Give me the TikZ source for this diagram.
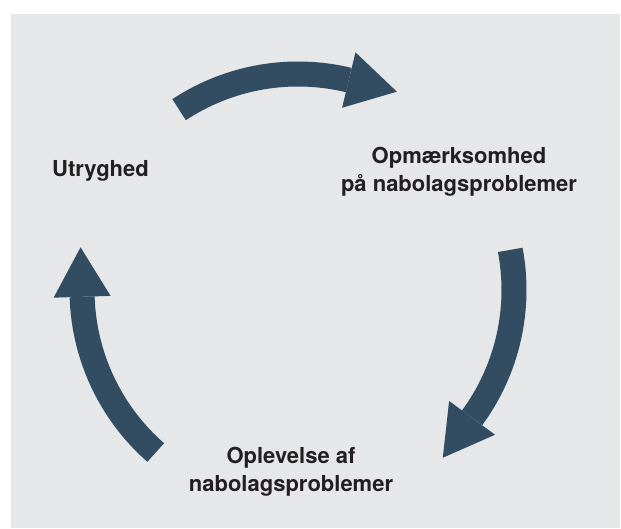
\documentclass[tikz,border=0pt]{standalone}
\usepackage{fontspec}
\setmainfont{TeX Gyre Heros}
\definecolor{panelgray}{HTML}{E6E7E9}
\definecolor{slateblue}{HTML}{324C62}
\definecolor{inkblack}{HTML}{231F20}

\begin{document}
\begin{tikzpicture}[x=1pt, y=1pt,
        shaft/.style={draw=slateblue, line width=25pt, line cap=butt},
        head/.style={fill=slateblue},
        label/.style={text=inkblack, align=center, anchor=base,
            font=\fontsize{22}{28}\selectfont\bfseries}]
    \useasboundingbox (0, 0) rectangle (621, 529);
    \fill[panelgray] (11, 1) rectangle (620, 515);
    %\draw[lightgray] (0, 0) grid[step=50] (621, 529);
    \begin{scope}[shift={(298, 239)}, rotate=76.4]
        \draw[shaft] (47:216) arc[start angle=47, end angle=0, radius=216];
        \fill[head] (187.5, 0) -- (244.5, 0) -- (216, -49.5) -- cycle;
    \end{scope}
    \begin{scope}[shift={(298, 239)}, rotate=-36.3]
        \draw[shaft] (47:216) arc[start angle=47, end angle=0, radius=216];
        \fill[head] (187.5, 0) -- (244.5, 0) -- (216, -49.5) -- cycle;
    \end{scope}
    \begin{scope}[shift={(298, 239)}, rotate=181.8]
        \draw[shaft] (47:216) arc[start angle=47, end angle=0, radius=216];
        \fill[head] (187.5, 0) -- (244.5, 0) -- (216, -49.5) -- cycle;
    \end{scope}
    \node[label] (utryghed) at (100.5, 352.3) {Utryghed};
    \node[label] (opmaerksomhed) at (459, 337.3) {Opmærksomhed\\på nabolagsproblemer};
    \node[label] (oplevelse) at (291, 37.3) {Oplevelse af\\nabolagsproblemer};
\end{tikzpicture}
\end{document}
